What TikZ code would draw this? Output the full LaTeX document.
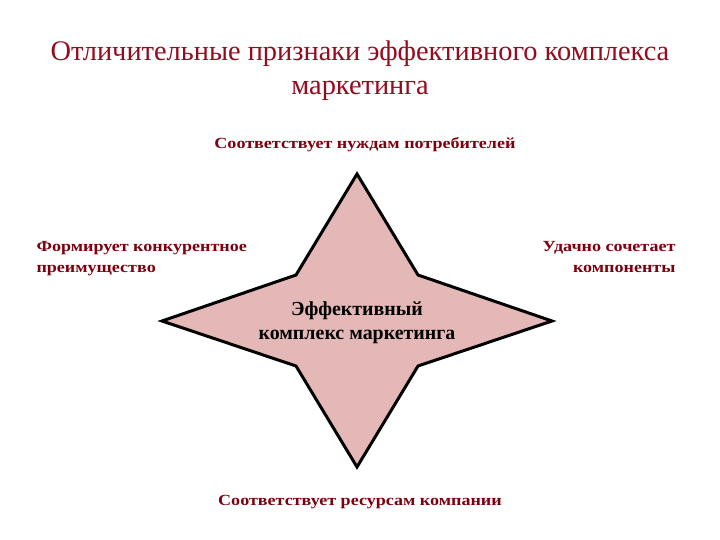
\documentclass[tikz,border=0pt]{standalone}
\usepackage{fontspec}
\setmainfont{Liberation Serif}
\newfontfamily\widefont[FakeStretch=1.17]{Liberation Serif}
\definecolor{titlered}{RGB}{150,10,30}
\definecolor{labelred}{RGB}{125,0,15}
\definecolor{starpink}{RGB}{228,184,183}

\begin{document}
\begin{tikzpicture}[x=1bp, y=-1bp,
    heading/.style={text=titlered, align=center, font=\fontsize{28.5}{34.3}\selectfont},
    feature/.style={text=labelred, font=\widefont\bfseries\fontsize{15.5}{22}\selectfont},
    mixlabel/.style={text=black, align=center, font=\bfseries\fontsize{20}{23.5}\selectfont},
    starshape/.style={draw=black, line width=3bp, fill=starpink, line join=miter}
        ]

    \path [use as bounding box] (0,0) rectangle (720,540);

    % star points and inner corners
    \coordinate (N) at (357,174);
    \coordinate (S) at (357,467);
    \coordinate (W) at (162,321);
    \coordinate (E) at (552,321);
    \coordinate (NW) at (296,275);
    \coordinate (NE) at (418,275);
    \coordinate (SW) at (296,366);
    \coordinate (SE) at (418,366);

    \draw [starshape] (N) -- (NE) -- (E) -- (SE) -- (S) -- (SW) -- (W) -- (NW) -- cycle;

    % base anchor of a two line node sits on the last line
    \node (title) [heading, anchor=base] at (360,95)
        {Отличительные признаки эффективного комплекса\\маркетинга};

    \node (needs) [feature, anchor=base] at (365,148.5) {Соответствует нуждам потребителей};
    \node (advantage) [feature, align=left, anchor=base west] at (33,273)
        {Формирует конкурентное\\преимущество};
    \node (combine) [feature, align=right, anchor=base east] at (679,273)
        {Удачно сочетает\\компоненты};
    \node (mix) [mixlabel, anchor=base] at (357,339)
        {Эффективный\\комплекс маркетинга};
    \node (resources) [feature, anchor=base] at (360,505.5) {Соответствует ресурсам компании};

\end{tikzpicture}
\end{document}
